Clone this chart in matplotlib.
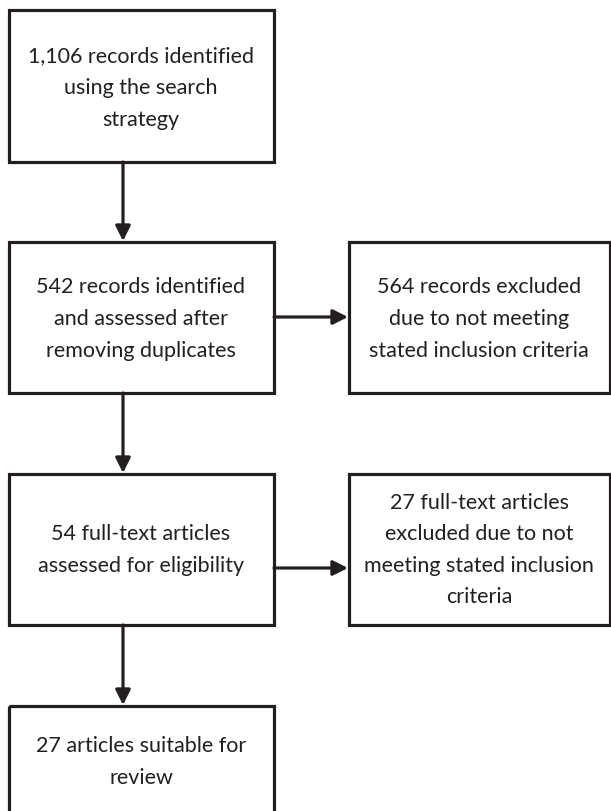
import matplotlib
matplotlib.use("Agg")
import matplotlib.pyplot as plt
from matplotlib.patches import Rectangle

# ---- content ----
box_texts = [
    "1,106 records identified\nusing the search\nstrategy",
    "542 records identified\nand assessed after\nremoving duplicates",
    "564 records excluded\ndue to not meeting\nstated inclusion criteria",
    "54 full-text articles\nassessed for eligibility",
    "27 full-text articles\nexcluded due to not\nmeeting stated inclusion\ncriteria",
    "27 articles suitable for\nreview",
]

# ---- layout (pixel units) ----
# (x0, y0, x1, y1)
boxes = [
    (9, 10, 274, 162),
    (9, 242, 274, 393),
    (349, 242, 610, 393),
    (9, 474, 274, 625),
    (349, 474, 610, 625),
    (9, 706, 274, 818),
]
text_centers = [(141, 88), (141, 319), (479, 319), (141, 550), (479, 550), (141, 762)]
# arrows: (x_start, y_start, x_end, y_end)
arrows = [
    (123, 162, 123, 241),
    (123, 393, 123, 473),
    (123, 625, 123, 705),
    (274, 317, 348, 317),
    (274, 568, 348, 568),
]

W, H = 611, 811
fig = plt.figure(figsize=(W / 100, H / 100), dpi=100)
ax = fig.add_axes([0, 0, 1, 1])
ax.set_xlim(0, W)
ax.set_ylim(H, 0)
ax.axis("off")

col = "#231f20"
for (x0, y0, x1, y1) in boxes:
    ax.add_patch(Rectangle((x0, y0), x1 - x0, y1 - y0, fill=False,
                           edgecolor=col, linewidth=2.3, joinstyle="miter"))

for txt, (cx, cy) in zip(box_texts, text_centers):
    ax.text(cx, cy, txt, ha="center", va="center", fontsize=15.5,
            family=["Lato", "DejaVu Sans"], color="#231f20", linespacing=1.72)

for (xs, ys, xe, ye) in arrows:
    ax.annotate("", xy=(xe, ye), xytext=(xs, ys),
                arrowprops=dict(arrowstyle="-|>,head_length=0.9,head_width=0.45",
                                color=col, lw=2.3, shrinkA=0, shrinkB=0))

fig.savefig("out.png", dpi=100)
